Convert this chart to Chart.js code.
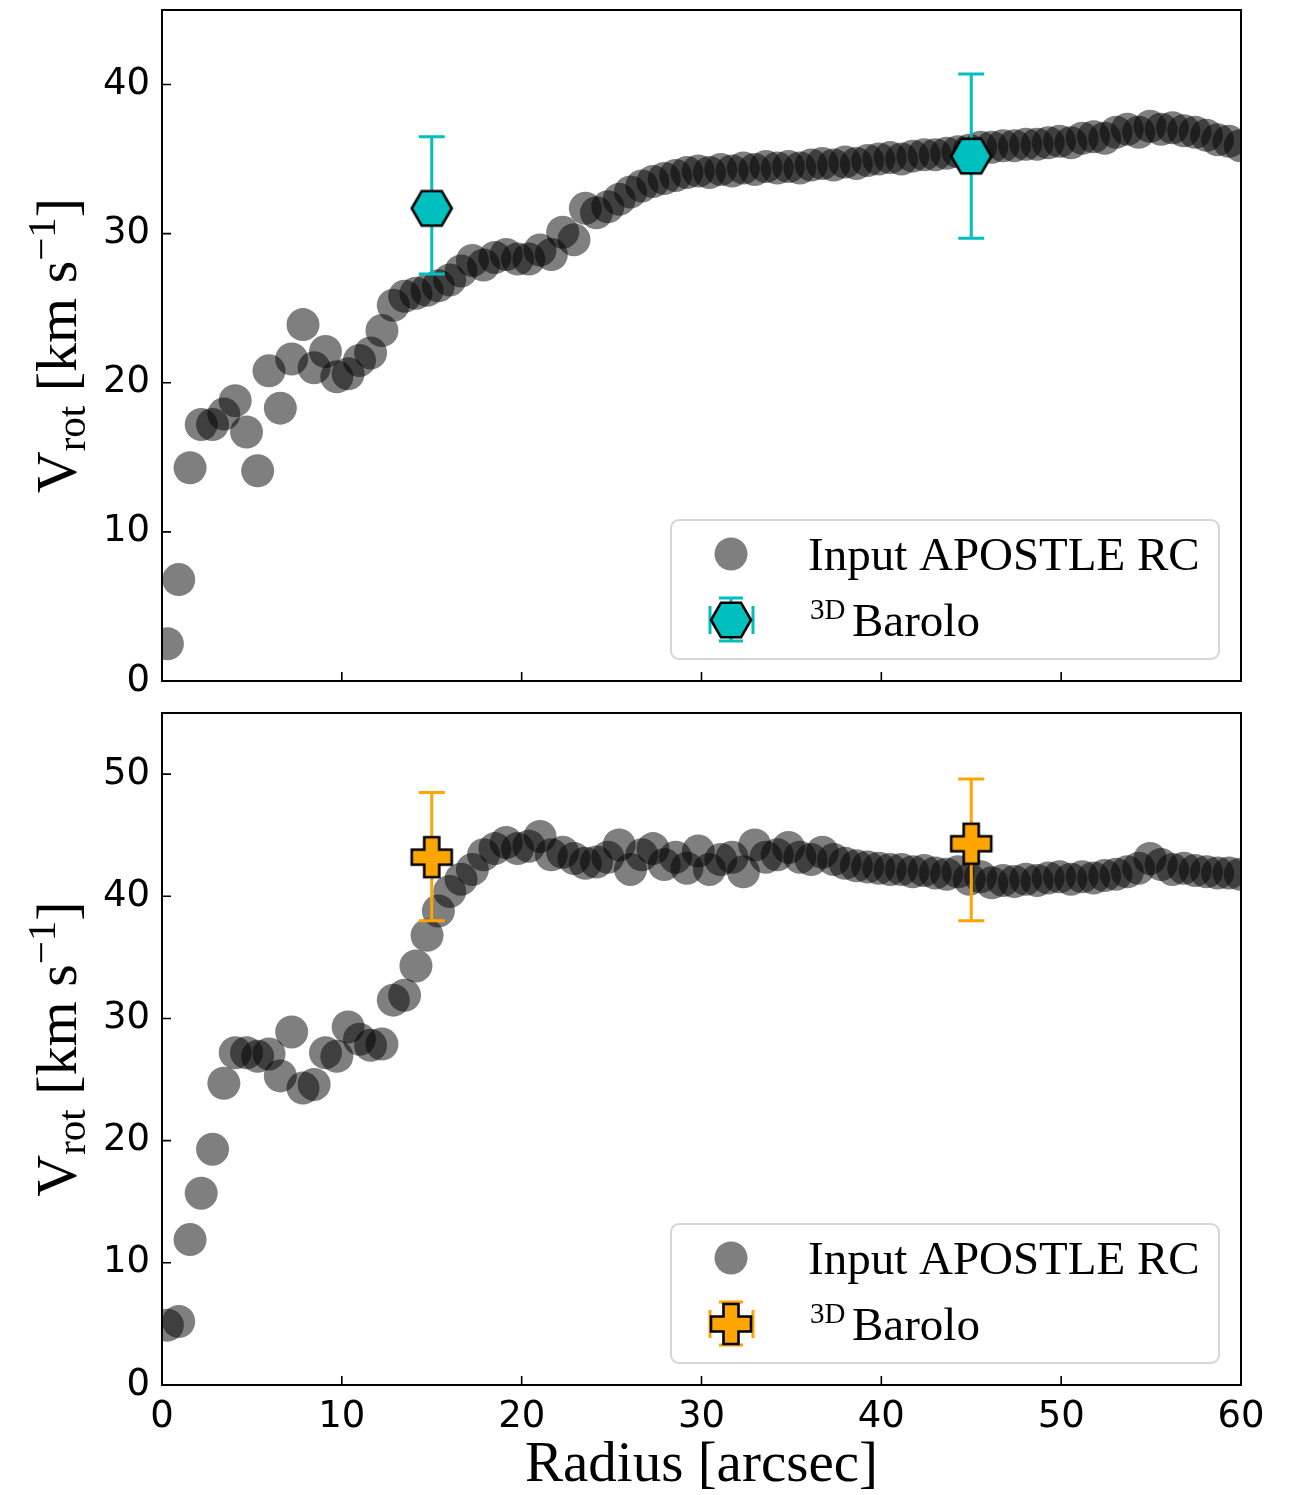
<!DOCTYPE html>
<html>
<head>
<meta charset="utf-8">
<script src="https://cdn.jsdelivr.net/npm/chart.js@4/dist/chart.umd.min.js"></script>
<style>
  body { margin: 0; background: #fff; }
  #wrap { position: relative; width: 1291px; height: 1495px; }
  canvas { position: absolute; left: 0; }
</style>
</head>
<body>
<div id="wrap">
  <canvas id="top" width="1291" height="700" style="top:0"></canvas>
  <canvas id="bottom" width="1291" height="795" style="top:700px"></canvas>
</div>
<script>
// radii of the input rotation curve samples [arcsec]
const radius = [0.30, 0.93, 1.56, 2.18, 2.81, 3.44, 4.07, 4.70, 5.32, 5.95,
  6.58, 7.21, 7.84, 8.46, 9.09, 9.72, 10.35, 10.98, 11.60, 12.23,
  12.86, 13.49, 14.12, 14.74, 15.37, 16.00, 16.63, 17.26, 17.88, 18.51,
  19.14, 19.77, 20.40, 21.02, 21.65, 22.28, 22.91, 23.54, 24.16, 24.79,
  25.42, 26.05, 26.68, 27.30, 27.93, 28.56, 29.19, 29.82, 30.44, 31.07,
  31.70, 32.33, 32.96, 33.58, 34.21, 34.84, 35.47, 36.10, 36.72, 37.35,
  37.98, 38.61, 39.24, 39.86, 40.49, 41.12, 41.75, 42.38, 43.00, 43.63,
  44.26, 44.89, 45.52, 46.14, 46.77, 47.40, 48.03, 48.66, 49.28, 49.91,
  50.54, 51.17, 51.80, 52.42, 53.05, 53.68, 54.31, 54.94, 55.56, 56.19,
  56.82, 57.45, 58.08, 58.70, 59.33, 59.96];

// top panel: input APOSTLE RC [km/s]
const vrotTop = [2.5, 6.8, 14.3, 17.2, 17.2, 17.9, 18.8, 16.7, 14.1, 20.8,
  18.3, 21.6, 23.9, 21.0, 22.1, 20.4, 20.6, 21.5, 22.0, 23.5,
  25.2, 25.8, 26.0, 26.2, 26.5, 26.9, 27.5, 28.2, 27.9, 28.4,
  28.6, 28.3, 28.3, 28.9, 28.6, 30.1, 29.6, 31.7, 31.4, 31.8,
  32.3, 32.8, 33.2, 33.5, 33.7, 33.9, 34.1, 34.2, 34.1, 34.3,
  34.2, 34.4, 34.3, 34.5, 34.4, 34.5, 34.4, 34.6, 34.7, 34.6,
  34.8, 34.7, 34.9, 35.0, 35.1, 35.0, 35.2, 35.3, 35.3, 35.4,
  35.5, 35.6, 35.8, 35.8, 35.9, 35.9, 36.0, 36.0, 36.1, 36.2,
  36.1, 36.4, 36.5, 36.4, 36.8, 37.0, 36.8, 37.2, 37.0, 37.1,
  36.9, 36.8, 36.6, 36.3, 36.2, 35.9];

// bottom panel: input APOSTLE RC [km/s]
const vrotBottom = [4.9, 5.2, 11.9, 15.7, 19.3, 24.7, 27.2, 27.2, 26.9, 27.1,
  25.3, 28.9, 24.3, 24.6, 27.2, 26.9, 29.3, 28.3, 27.8, 27.9,
  31.5, 31.9, 34.3, 36.8, 38.8, 40.4, 41.4, 42.2, 43.4, 43.9,
  44.4, 43.9, 44.1, 44.9, 43.4, 43.6, 43.1, 42.7, 42.8, 43.2,
  44.2, 42.2, 43.4, 43.9, 42.6, 43.2, 42.3, 43.7, 42.2, 43.0,
  43.2, 42.0, 44.2, 43.2, 43.4, 44.0, 43.2, 43.0, 43.6, 43.0,
  42.7, 42.5, 42.4, 42.3, 42.2, 42.2, 42.0, 42.1, 41.9, 41.8,
  42.0, 41.4, 41.6, 41.1, 41.3, 41.2, 41.4, 41.3, 41.5, 41.6,
  41.4, 41.6, 41.5, 41.7, 41.8, 42.0, 42.3, 43.1, 42.6, 42.2,
  42.3, 42.1, 42.0, 41.9, 41.9, 41.8];

// 3DBarolo fits
const baroloRadius = [15, 45];
const baroloTop = [31.7, 35.2];
const baroloTopLo = [27.3, 29.7];
const baroloTopHi = [36.5, 40.7];
const baroloBottom = [43.2, 44.3];
const baroloBottomLo = [38.0, 38.0];
const baroloBottomHi = [48.5, 49.6];

const CYAN = '#00bfbf';
const ORANGE = '#ffa500';
const GREY = 'rgba(0,0,0,0.5)';
const SERIF = '"Liberation Serif", "DejaVu Serif", serif';
const SANS = '"DejaVu Sans", sans-serif';

function hexagonImage() {
  const c = document.createElement('canvas');
  c.width = 46; c.height = 42;
  const g = c.getContext('2d');
  g.translate(23, 21);
  g.beginPath();
  for (let k = 0; k < 6; k++) {
    const a = k * Math.PI / 3;
    g.lineTo(20 * Math.cos(a), 20 * Math.sin(a));
  }
  g.closePath();
  g.fillStyle = CYAN; g.fill();
  g.lineWidth = 2.6; g.strokeStyle = '#000'; g.stroke();
  return c;
}

function plusImage() {
  const c = document.createElement('canvas');
  c.width = 46; c.height = 46;
  const g = c.getContext('2d');
  g.translate(23, 23);
  const L = 20, T = 7.5;
  g.beginPath();
  g.moveTo(-T, -L); g.lineTo(T, -L); g.lineTo(T, -T); g.lineTo(L, -T);
  g.lineTo(L, T); g.lineTo(T, T); g.lineTo(T, L); g.lineTo(-T, L);
  g.lineTo(-T, T); g.lineTo(-L, T); g.lineTo(-L, -T); g.lineTo(-T, -T);
  g.closePath();
  g.fillStyle = ORANGE; g.fill();
  g.lineWidth = 2.6; g.strokeStyle = '#000'; g.stroke();
  return c;
}

const hexImg = hexagonImage();
const plusImg = plusImage();

// error bars under the Barolo markers
const errorBars = {
  id: 'errorBars',
  beforeDatasetDraw(chart, args) {
    const ds = chart.data.datasets[args.index];
    if (!ds.errLo) return;
    const ctx = chart.ctx, xs = chart.scales.x, ys = chart.scales.y;
    ctx.save();
    ctx.strokeStyle = ds.errColor;
    ctx.lineWidth = 3;
    ds.data.forEach((p, i) => {
      const px = xs.getPixelForValue(p.x);
      const lo = ys.getPixelForValue(ds.errLo[i]);
      const hi = ys.getPixelForValue(ds.errHi[i]);
      ctx.beginPath();
      ctx.moveTo(px, lo); ctx.lineTo(px, hi);
      ctx.moveTo(px - 13, lo); ctx.lineTo(px + 13, lo);
      ctx.moveTo(px - 13, hi); ctx.lineTo(px + 13, hi);
      ctx.stroke();
    });
    ctx.restore();
  }
};

// frame, inward ticks, y title, legend
const decorations = {
  id: 'decorations',
  afterDraw(chart, args, opts) {
    const ctx = chart.ctx, ca = chart.chartArea;
    ctx.save();
    ctx.strokeStyle = '#000';
    ctx.lineWidth = 1.6;
    ctx.beginPath();
    chart.scales.x.ticks.forEach(t => {
      const px = chart.scales.x.getPixelForValue(t.value);
      ctx.moveTo(px, ca.bottom); ctx.lineTo(px, ca.bottom - 9);
    });
    chart.scales.y.ticks.forEach(t => {
      const py = chart.scales.y.getPixelForValue(t.value);
      ctx.moveTo(ca.left, py); ctx.lineTo(ca.left + 9, py);
    });
    ctx.stroke();
    ctx.lineWidth = 2;
    ctx.strokeRect(ca.left, ca.top, ca.right - ca.left, ca.bottom - ca.top);

    // y title: V_rot [km s^-1]
    ctx.translate(76, (ca.top + ca.bottom) / 2);
    ctx.rotate(-Math.PI / 2);
    ctx.fillStyle = '#000';
    ctx.textBaseline = 'alphabetic';
    const parts = [
      { t: 'V', s: 58, dy: 0 },
      { t: 'rot', s: 41, dy: 9 },
      { t: ' [km s', s: 58, dy: 0 },
      { t: '\u22121', s: 41, dy: -21 },
      { t: ']', s: 58, dy: 0 }
    ];
    let total = 0;
    parts.forEach(p => { ctx.font = p.s + 'px ' + SERIF; p.w = ctx.measureText(p.t).width; total += p.w; });
    let x = -total / 2;
    parts.forEach(p => { ctx.font = p.s + 'px ' + SERIF; ctx.fillText(p.t, x, p.dy); x += p.w; });
    ctx.restore();

    // legend box
    ctx.save();
    const w = 548, h = 139;
    const x0 = ca.right - 22 - w, y0 = ca.bottom - 22 - h;
    ctx.beginPath();
    ctx.roundRect(x0, y0, w, h, 8);
    ctx.fillStyle = 'rgba(255,255,255,0.8)';
    ctx.fill();
    ctx.strokeStyle = '#d6d6d6';
    ctx.lineWidth = 2;
    ctx.stroke();

    const mx = x0 + 60;
    ctx.beginPath();
    ctx.arc(mx, y0 + 34, 16.5, 0, Math.PI * 2);
    ctx.fillStyle = GREY;
    ctx.fill();

    const my = y0 + 100;
    ctx.strokeStyle = opts.color;
    ctx.lineWidth = 3;
    ctx.beginPath();
    ctx.moveTo(mx, my - 22); ctx.lineTo(mx, my + 21);
    ctx.moveTo(mx - 12, my - 22); ctx.lineTo(mx + 12, my - 22);
    ctx.moveTo(mx - 12, my + 21); ctx.lineTo(mx + 12, my + 21);
    ctx.moveTo(mx - 21, my); ctx.lineTo(mx + 22, my);
    ctx.moveTo(mx - 21, my - 14); ctx.lineTo(mx - 21, my + 14);
    ctx.moveTo(mx + 22, my - 14); ctx.lineTo(mx + 22, my + 14);
    ctx.stroke();
    const img = opts.marker;
    ctx.drawImage(img, mx - img.width / 2, my - img.height / 2);

    ctx.fillStyle = '#000';
    ctx.textBaseline = 'alphabetic';
    ctx.font = '47px ' + SERIF;
    ctx.fillText('Input APOSTLE RC', x0 + 137, y0 + 50);
    ctx.font = '29px ' + SERIF;
    ctx.fillText('3D', x0 + 139, y0 + 99);
    ctx.font = '47px ' + SERIF;
    ctx.fillText('Barolo', x0 + 181, y0 + 116);
    ctx.restore();
  }
};

function makeChart(id, vrot, bv, blo, bhi, marker, color, ymax, bottomPanel) {
  return new Chart(document.getElementById(id), {
    type: 'scatter',
    data: {
      datasets: [
        {
          label: 'Input APOSTLE RC',
          data: radius.map((r, i) => ({ x: r, y: vrot[i] })),
          backgroundColor: GREY,
          borderWidth: 0,
          pointRadius: 16.5,
          pointHoverRadius: 16.5,
          order: 1,
          clip: 0
        },
        {
          label: '3DBarolo',
          data: baroloRadius.map((r, i) => ({ x: r, y: bv[i] })),
          errLo: blo,
          errHi: bhi,
          errColor: color,
          pointStyle: marker,
          pointRadius: 20,
          order: 0,
          clip: false
        }
      ]
    },
    options: {
      responsive: false,
      animation: false,
      events: [],
      layout: {
        autoPadding: false,
        padding: { top: bottomPanel ? 13 : 10, right: 50, bottom: bottomPanel ? 0 : 19, left: 0 }
      },
      plugins: {
        legend: { display: false },
        tooltip: { enabled: false },
        decorations: { marker: marker, color: color }
      },
      scales: {
        x: {
          type: 'linear',
          min: 0, max: 60,
          grid: { display: false, drawTicks: false },
          border: { display: false },
          ticks: {
            display: bottomPanel,
            stepSize: 10,
            padding: 10,
            color: '#000',
            font: { family: SANS, size: 37 }
          },
          title: {
            display: bottomPanel,
            text: 'Radius [arcsec]',
            color: '#000',
            font: { family: SERIF, size: 57, lineHeight: 1.0 },
            padding: { top: 0, bottom: 0 }
          },
          afterFit: s => {
            s.height = bottomPanel ? 110 : 0;
            s.paddingLeft = 0; s.paddingRight = 0;
          }
        },
        y: {
          min: 0, max: ymax,
          grid: { display: false, drawTicks: false },
          border: { display: false },
          ticks: {
            stepSize: 10,
            includeBounds: false,
            padding: 12,
            color: '#000',
            font: { family: SANS, size: 37 }
          },
          afterBuildTicks: s => { s.ticks = s.ticks.filter(t => t.value % 10 === 0); },
          afterFit: s => {
            s.width = 162;
            s.paddingTop = 0; s.paddingBottom = 0;
          }
        }
      }
    },
    plugins: [errorBars, decorations]
  });
}

makeChart('top', vrotTop, baroloTop, baroloTopLo, baroloTopHi, hexImg, CYAN, 45, false);
makeChart('bottom', vrotBottom, baroloBottom, baroloBottomLo, baroloBottomHi, plusImg, ORANGE, 55, true);
</script>
</body>
</html>
